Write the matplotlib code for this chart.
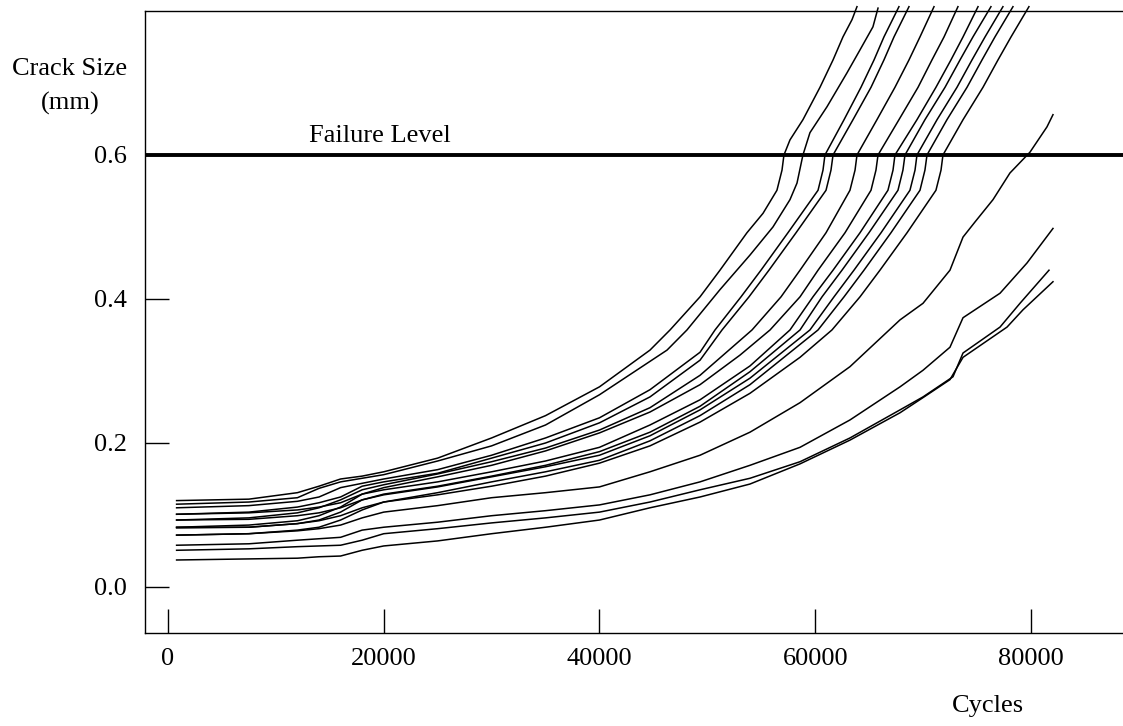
# Crecimiento de grieta vs. ciclos, con nivel de falla en 0.6 mm.
import matplotlib.pyplot as plt

plt.rcParams['font.family'] = ['Liberation Serif', 'DejaVu Serif']

# rejilla común de ciclos para el tramo inicial (plano) de cada ensayo
ciclos_base = [800, 7500, 12000, 14000, 16000, 18000, 20000, 25000, 30000, 35000, 40000]

# tamaño de grieta (mm) en ciclos_base, y luego el tramo de crecimiento rápido
a1_base = [0.120, 0.122, 0.131, 0.140, 0.150, 0.154, 0.160, 0.179, 0.207, 0.238, 0.278]
a1_x = [44680, 46540, 49320, 51170, 53670, 55160, 56450, 56920, 57100, 57660, 58860, 60440, 61650, 62570, 63410, 63870]
a1_y = [0.329, 0.357, 0.403, 0.440, 0.492, 0.519, 0.551, 0.579, 0.600, 0.621, 0.649, 0.694, 0.732, 0.764, 0.788, 0.806]

a2_base = [0.115, 0.118, 0.124, 0.137, 0.146, 0.151, 0.156, 0.175, 0.196, 0.225, 0.267]
a2_x = [46260, 48110, 51170, 53950, 56080, 57660, 58310, 58860, 59510, 61090, 62940, 64150, 65350, 65820]
a2_y = [0.329, 0.357, 0.413, 0.461, 0.500, 0.538, 0.561, 0.600, 0.631, 0.667, 0.714, 0.746, 0.778, 0.804]

a3_base = [0.110, 0.113, 0.119, 0.125, 0.138, 0.144, 0.150, 0.163, 0.183, 0.207, 0.235]
a3_x = [44680, 49320, 50710, 53120, 54970, 57470, 60260, 60720, 60900, 62670, 64240, 65450, 66370, 67760]
a3_y = [0.274, 0.326, 0.357, 0.403, 0.440, 0.492, 0.551, 0.579, 0.600, 0.649, 0.694, 0.732, 0.764, 0.806]

a4_base = [0.101, 0.104, 0.111, 0.117, 0.125, 0.140, 0.146, 0.158, 0.179, 0.200, 0.228]
a4_x = [44680, 49320, 51360, 53860, 55710, 58220, 61000, 61460, 61650, 63500, 65170, 66370, 67300, 68690]
a4_y = [0.264, 0.315, 0.357, 0.403, 0.440, 0.492, 0.551, 0.579, 0.600, 0.649, 0.694, 0.732, 0.764, 0.806]

a5_base = [0.093, 0.096, 0.103, 0.110, 0.121, 0.135, 0.142, 0.157, 0.174, 0.193, 0.218]
a5_x = [44680, 49320, 54140, 56830, 58590, 61000, 63220, 63690, 63870, 65720, 67390, 68690, 69710, 71010]
a5_y = [0.249, 0.294, 0.357, 0.403, 0.440, 0.492, 0.551, 0.579, 0.600, 0.649, 0.694, 0.732, 0.764, 0.806]

a6_base = [0.083, 0.086, 0.092, 0.099, 0.111, 0.129, 0.138, 0.153, 0.169, 0.189, 0.214]
a6_x = [44680, 49320, 53020, 55810, 58590, 60260, 62760, 65170, 65630, 65820, 67760, 69530, 70820, 71940, 73230]
a6_y = [0.243, 0.281, 0.322, 0.357, 0.403, 0.440, 0.492, 0.551, 0.579, 0.600, 0.649, 0.694, 0.732, 0.764, 0.806]

a7_base = [0.101, 0.103, 0.107, 0.111, 0.117, 0.129, 0.135, 0.146, 0.160, 0.175, 0.194]
a7_x = [44680, 49320, 53950, 57660, 59790, 61650, 64150, 66740, 67210, 67390, 69430, 71190, 72580, 73700, 75090]
a7_y = [0.225, 0.260, 0.307, 0.357, 0.403, 0.440, 0.492, 0.551, 0.579, 0.600, 0.649, 0.694, 0.732, 0.764, 0.806]

a8_base = [0.093, 0.094, 0.099, 0.103, 0.110, 0.121, 0.129, 0.140, 0.154, 0.169, 0.188]
a8_x = [44680, 49320, 53950, 58590, 60630, 62480, 64980, 67670, 68130, 68320, 70170, 72030, 73420, 74620, 76290]
a8_y = [0.215, 0.251, 0.299, 0.357, 0.403, 0.440, 0.492, 0.551, 0.579, 0.600, 0.649, 0.694, 0.732, 0.764, 0.806]

a9_base = [0.082, 0.083, 0.088, 0.093, 0.104, 0.121, 0.128, 0.139, 0.153, 0.167, 0.183]
a9_x = [44680, 49320, 53950, 59510, 61740, 63590, 66100, 68780, 69250, 69430, 71290, 73140, 74530, 75740, 77400]
a9_y = [0.210, 0.246, 0.290, 0.357, 0.403, 0.440, 0.492, 0.551, 0.579, 0.600, 0.649, 0.694, 0.732, 0.764, 0.806]

a10_base = [0.072, 0.074, 0.079, 0.083, 0.093, 0.107, 0.118, 0.131, 0.146, 0.160, 0.176]
a10_x = [44680, 49320, 53950, 60260, 62670, 64520, 67020, 69710, 70170, 70360, 72210, 74070, 75460, 76660, 78330]
a10_y = [0.203, 0.238, 0.281, 0.357, 0.403, 0.440, 0.492, 0.551, 0.579, 0.600, 0.649, 0.694, 0.732, 0.764, 0.806]

a11_base = [0.083, 0.083, 0.088, 0.092, 0.099, 0.110, 0.118, 0.128, 0.140, 0.154, 0.172]
a11_x = [44680, 49320, 53950, 58590, 61550, 64150, 66000, 68510, 71190, 71660, 71840, 73700, 75550, 76940, 78150, 79810]
a11_y = [0.196, 0.229, 0.269, 0.319, 0.357, 0.403, 0.440, 0.492, 0.551, 0.579, 0.600, 0.649, 0.694, 0.732, 0.764, 0.806]

b12_base = [0.072, 0.074, 0.078, 0.081, 0.086, 0.096, 0.104, 0.113, 0.124, 0.131, 0.139]
b12_x = [44680, 49320, 53950, 58590, 63220, 67860, 69990, 72490, 73700, 74810, 76480, 78050, 79910, 81480, 82040]
b12_y = [0.160, 0.183, 0.215, 0.256, 0.306, 0.371, 0.394, 0.440, 0.486, 0.507, 0.538, 0.575, 0.604, 0.639, 0.656]

c13_base = [0.058, 0.060, 0.065, 0.067, 0.069, 0.079, 0.083, 0.090, 0.099, 0.106, 0.114]
c13_x = [44680, 49320, 53950, 58590, 63220, 67860, 69990, 72490, 73700, 77130, 79630, 82040]
c13_y = [0.128, 0.146, 0.169, 0.194, 0.232, 0.278, 0.301, 0.333, 0.374, 0.408, 0.450, 0.498]

c14_base = [0.051, 0.053, 0.056, 0.057, 0.058, 0.065, 0.074, 0.081, 0.089, 0.096, 0.104]
c14_x = [44680, 49320, 53950, 58590, 63220, 67860, 69990, 72770, 73700, 77130, 78980, 81670]
c14_y = [0.118, 0.135, 0.151, 0.174, 0.207, 0.246, 0.264, 0.292, 0.325, 0.361, 0.394, 0.440]

c15_base = [0.0375, 0.039, 0.040, 0.042, 0.043, 0.051, 0.057, 0.064, 0.074, 0.083, 0.093]
c15_x = [44680, 49320, 53950, 58590, 63220, 67860, 69990, 72490, 73700, 77780, 79260, 82040]
c15_y = [0.110, 0.125, 0.143, 0.171, 0.204, 0.242, 0.263, 0.288, 0.319, 0.361, 0.385, 0.424]

nivel_falla = 0.6
ticks_x = [0, 20000, 40000, 60000, 80000]
ticks_y = [0.0, 0.2, 0.4, 0.6]

curvas = [
    (a1_base, a1_x, a1_y), (a2_base, a2_x, a2_y), (a3_base, a3_x, a3_y),
    (a4_base, a4_x, a4_y), (a5_base, a5_x, a5_y), (a6_base, a6_x, a6_y),
    (a7_base, a7_x, a7_y), (a8_base, a8_x, a8_y), (a9_base, a9_x, a9_y),
    (a10_base, a10_x, a10_y), (a11_base, a11_x, a11_y), (b12_base, b12_x, b12_y),
    (c13_base, c13_x, c13_y), (c14_base, c14_x, c14_y), (c15_base, c15_x, c15_y),
]

fig = plt.figure(figsize=(11.23, 7.26), dpi=100)
ax = fig.add_axes([145 / 1123, 1 - 633 / 726, 1 - 145 / 1123, 622 / 726])

for base, xs, ys in curvas:
    ax.plot(ciclos_base + xs, base + ys, color='black', lw=1.1, clip_on=False)

ax.axhline(nivel_falla, color='black', lw=2.8)
ax.text(19650, 0.618, 'Failure Level', fontsize=19, ha='center', va='baseline')

ax.set_xlim(-2130, 88530)
ax.set_ylim(-0.0639, 0.800)
ax.set_xticks(ticks_x)
ax.set_xticklabels([str(t) for t in ticks_x])
ax.set_yticks(ticks_y)
ax.set_yticklabels([f'{t:.1f}' for t in ticks_y])
ax.tick_params(direction='in', length=17, width=1.0, labelsize=19, colors='black')
ax.tick_params(axis='y', pad=13)
ax.tick_params(axis='x', pad=11)

ax.spines['right'].set_visible(False)
for lado in ['left', 'bottom', 'top']:
    ax.spines[lado].set_linewidth(1.0)

fig.text(70 / 1123, 1 - 69 / 726, 'Crack Size', fontsize=19, ha='center', va='center')
fig.text(70 / 1123, 1 - 103 / 726, '(mm)', fontsize=19, ha='center', va='center')
fig.text(988 / 1123, 1 - 706 / 726, 'Cycles', fontsize=19, ha='center', va='center')

fig.savefig('out.png', dpi=100)
